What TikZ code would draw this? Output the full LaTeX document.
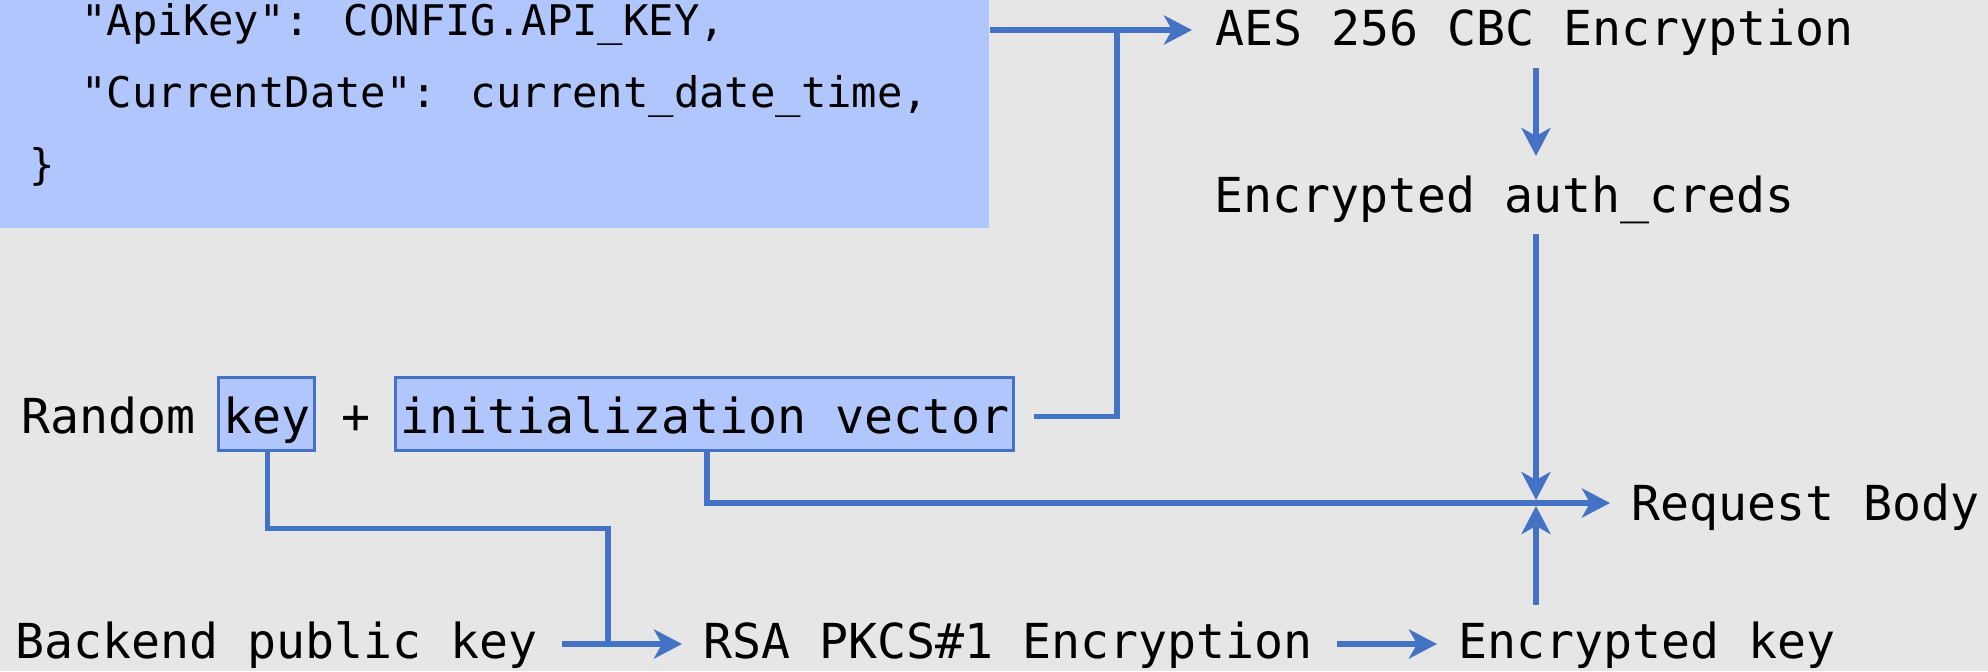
\documentclass[tikz,border=0pt]{standalone}
\usepackage{fontspec}
\newfontfamily\dm{DejaVu Sans Mono}
\usetikzlibrary{arrows.meta,calc}
\definecolor{bg}{RGB}{230,230,230}
\definecolor{boxfill}{RGB}{177,198,252}
\definecolor{ln}{RGB}{68,114,196}
\begin{document}
\begin{tikzpicture}[x=0.5pt,y=-0.5pt,
  txt/.style={font=\dm\fontsize{24.1}{29}\selectfont, inner sep=0, anchor=base west, text=black},
  codetxt/.style={font=\dm\fontsize{21.1}{26}\selectfont, inner sep=0, anchor=base west, text=black},
  hl/.style={txt, fill=boxfill, draw=ln, line width=1.5pt, inner xsep=2.25pt, inner ysep=0pt,
             text height=28pt, text depth=8.5pt},
  conn/.style={draw=ln, line width=2.8pt},
  arr/.style={conn, -{Stealth[length=14pt,width=14.5pt,inset=4pt]}}
]
\fill[bg] (0,0) rectangle (1988,671);
\useasboundingbox (0,0) rectangle (1988,671);

% code box
\node[fill=boxfill, inner sep=0, minimum width=494.5pt, minimum height=114pt, anchor=north west] (code) at (0,0) {};
\node[codetxt] (l1) at (81,35) {"ApiKey": CONFIG.API\_KEY,};
\node[codetxt] (l2) at (81,107) {"CurrentDate": current\_date\_time,};
\node[codetxt] (l3) at (29,179) {\}};

% right column
\node[txt] (aes) at (1215,45) {AES 256 CBC Encryption};
\node[txt] (auth) at (1214,212) {Encrypted auth\_creds};
\node[txt] (rb) at (1631,520) {Request Body};

% random key line
\node[txt] (rand) at (21,433) {Random};
\node[hl, anchor=base west] (key) at (217,433) {key};
\node[txt] (plus) at (341,433) {+};
\node[hl, anchor=base west] (iv) at (394,433) {initialization vector\hspace{2pt}};

% bottom line
\node[txt] (bpk) at (15,658) {Backend public key};
\node[txt] (rsa) at (703,658) {RSA PKCS\#1 Encryption};
\node[txt] (ek) at (1458,658) {Encrypted key};

% connectors
\draw[arr] ($(code.north east)+(0,30)$) -- ($(aes.base west)+(-23,-15)$);
\draw[conn] ($(iv.east)+(19,3)$) -| ($(code.north east)+(127,30)$);
\draw[arr] ($(aes.base west)+(321,23)$) -- ($(auth.base west)+(322,-56)$);
\draw[arr] ($(auth.base west)+(322,22)$) -- ($(rb.base west)+(-95,-20)$);
\draw[arr] ($(ek.base west)+(78,-53)$) -- ($(rb.base west)+(-95,-14)$);
\draw[arr] ($(iv.south)+(2,0)$) |- ($(rb.base west)+(-21,-17)$);
\draw[conn] ($(key.south)+(1,0)$) -- ++(0,77) -| ($(rsa.base west)+(-95,-14)$);
\draw[arr] ($(bpk.base east)+(24,-14)$) -- ($(rsa.base west)+(-21,-14)$);
\draw[arr] ($(rsa.base east)+(24,-14)$) -- ($(ek.base west)+(-21,-14)$);
\end{tikzpicture}
\end{document}
